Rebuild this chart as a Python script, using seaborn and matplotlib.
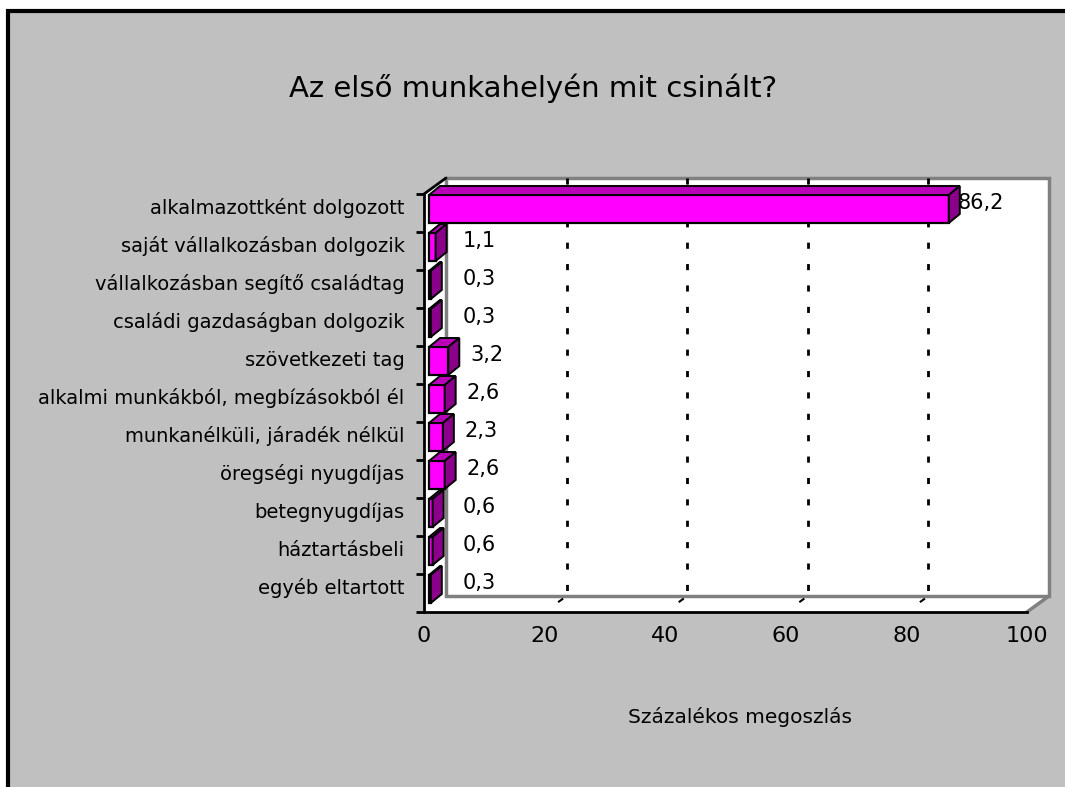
import matplotlib
matplotlib.use("Agg")
import matplotlib.pyplot as plt
import matplotlib.transforms as mtransforms
from matplotlib.patches import Polygon, Rectangle
import seaborn as sns
import pandas as pd

categories = [
    "alkalmazottként dolgozott",
    "saját vállalkozásban dolgozik",
    "vállalkozásban segítő családtag",
    "családi gazdaságban dolgozik",
    "szövetkezeti tag",
    "alkalmi munkákból, megbízásokból él",
    "munkanélküli, járadék nélkül",
    "öregségi nyugdíjas",
    "betegnyugdíjas",
    "háztartásbeli",
    "egyéb eltartott",
]
values = [86.2, 1.1, 0.3, 0.3, 3.2, 2.6, 2.3, 2.6, 0.6, 0.6, 0.3]
x_ticks = [0, 20, 40, 60, 80, 100]
title = "Az első munkahelyén mit csinált?"
x_title = "Százalékos megoszlás"

FRONT = "#FF00FF"
TOP = "#B800B8"
SIDE = "#8A008A"
GRAY_BG = "#C0C0C0"

sns.set_style("white")
plt.rcParams["font.family"] = ["DejaVu Sans"]
plt.rcParams["text.color"] = "black"
plt.rcParams["xtick.color"] = "black"
plt.rcParams["ytick.color"] = "black"

W, H = 1065, 787
fig = plt.figure(figsize=(W / 100, H / 100), dpi=100, facecolor="white")

# grey chart area with black frame (runs off the right/bottom edge)
fig.patches.append(Rectangle((8 / W, -0.05), 1.1, 1 - 11 / H + 0.05,
                             transform=fig.transFigure, facecolor=GRAY_BG,
                             edgecolor="black", linewidth=3, zorder=-10))

# front plane of the 3D box in pixels
L, R, T, B = 424, 1027, 194, 612
ax = fig.add_axes([L / W, 1 - B / H, (R - L) / W, (B - T) / H])
ax.set_facecolor("none")

n = len(categories)
ax.set_xlim(0, 100)
ax.set_ylim(n - 0.5, -0.5)
px_x = 100 / (R - L)          # data units per pixel along x
px_y = n / (B - T)            # data units per pixel along y (down positive)


def off(x, y, dx, dy):
    # shift a data point by a pixel offset (dy positive = up)
    return (x + dx * px_x, y - dy * px_y)


# walls: depth offset of the box
WD = (22, 16)
wall = [off(0, -0.5, 0, 0), off(0, -0.5, *WD), off(100, -0.5, *WD),
        off(100, n - 0.5, *WD), off(100, n - 0.5, 0, 0), off(0, n - 0.5, 0, 0)]
ax.add_patch(Polygon(wall, closed=True, facecolor="white", edgecolor="none",
                     clip_on=False, zorder=0))
back = [off(0, -0.5, *WD), off(100, -0.5, *WD), off(100, n - 0.5, *WD),
        off(0, n - 0.5, *WD)]
ax.add_patch(Polygon(back, closed=True, facecolor="none", edgecolor="#808080",
                     linewidth=2.5, clip_on=False, zorder=1))
# floor front-right edge and top-left edge
p0, p1 = off(100, n - 0.5, 0, 0), off(100, n - 0.5, *WD)
ax.plot([p0[0], p1[0]], [p0[1], p1[1]], color="#808080", lw=2.5,
        clip_on=False, zorder=1)
p0, p1 = off(0, -0.5, 0, 0), off(0, -0.5, *WD)
ax.plot([p0[0], p1[0]], [p0[1], p1[1]], color="black", lw=2,
        clip_on=False, zorder=5)

# gridlines on the back wall and the floor
for v in x_ticks[1:-1]:
    a, b = off(v, -0.5, *WD), off(v, n - 0.5, *WD)
    ax.plot([a[0], b[0]], [a[1], b[1]], color="black", lw=2,
            linestyle=(0, (2.2, 5.5)), clip_on=False, zorder=1)
    a, b = off(v, n - 0.5, 0, 0), off(v, n - 0.5, *WD)
    ax.plot([a[0], b[0]], [a[1], b[1]], color="black", lw=1.5,
            linestyle=(0, (0.01, 8, 3, 30)), clip_on=False, zorder=1)

df = pd.DataFrame({"category": categories, "value": values})
sns.barplot(data=df, y="category", x="value", orient="h", color=FRONT,
            saturation=1, width=28 / 38, edgecolor="black", linewidth=1.6,
            ax=ax, zorder=3)

# move the front faces back a little into the box, add top and side faces
BF = (5, 4)      # front face offset from the front plane
BD = (11, 9)     # bar depth
bars = [p for p in ax.patches if isinstance(p, Rectangle)]
for bar in bars:
    x0, y0 = bar.get_x(), bar.get_y()
    w, h = bar.get_width(), bar.get_height()
    nx, ny = off(x0, y0, *BF)
    bar.set_x(nx)
    bar.set_y(ny)
    x1, ytop, ybot = nx + w, ny, ny + h
    top = [(nx, ytop), (x1, ytop), off(x1, ytop, *BD), off(nx, ytop, *BD)]
    side = [(x1, ytop), off(x1, ytop, *BD), off(x1, ybot, *BD), (x1, ybot)]
    ax.add_patch(Polygon(top, closed=True, facecolor=TOP, edgecolor="black",
                         linewidth=1.4, zorder=3, clip_on=False))
    ax.add_patch(Polygon(side, closed=True, facecolor=SIDE, edgecolor="black",
                         linewidth=1.4, zorder=3, clip_on=False))

# value labels
for i, v in enumerate(values):
    tx = max(v * 0.975 + 4.5, 6.4)
    ax.text(tx, i - 10 * px_y, f"{v:.1f}".replace(".", ","), ha="left",
            va="center", fontsize=15, color="black", zorder=6, clip_on=False)

# axes styling
for s in ["top", "right"]:
    ax.spines[s].set_visible(False)
for s in ["left", "bottom"]:
    ax.spines[s].set_color("black")
    ax.spines[s].set_linewidth(2)
    ax.spines[s].set_zorder(5)

ax.set_xticks(x_ticks)
ax.set_xticklabels([str(t) for t in x_ticks], fontsize=16)
ax.tick_params(axis="x", direction="out", length=6, width=2, pad=4)
ax.set_yticks(range(n))
ax.set_yticklabels(categories, fontsize=14)
ax.tick_params(axis="y", which="major", left=False, length=0, pad=14)
ax.set_yticks([i + 0.5 for i in range(-1, n)], minor=True)
ax.tick_params(axis="y", which="minor", left=True, direction="out",
               length=6, width=2, color="black")
shift = mtransforms.ScaledTranslation(0, 7 / 100, fig.dpi_scale_trans)
for lab in ax.get_yticklabels():
    lab.set_transform(lab.get_transform() + shift)
ax.set_xlabel("")
ax.set_ylabel("")

fig.text(533 / W, 1 - 88 / H, title, ha="center", va="center", fontsize=21)
fig.text(740 / W, 1 - 717 / H, x_title, ha="center", va="center", fontsize=14.5)

fig.savefig("out.png", dpi=100, facecolor="white")
